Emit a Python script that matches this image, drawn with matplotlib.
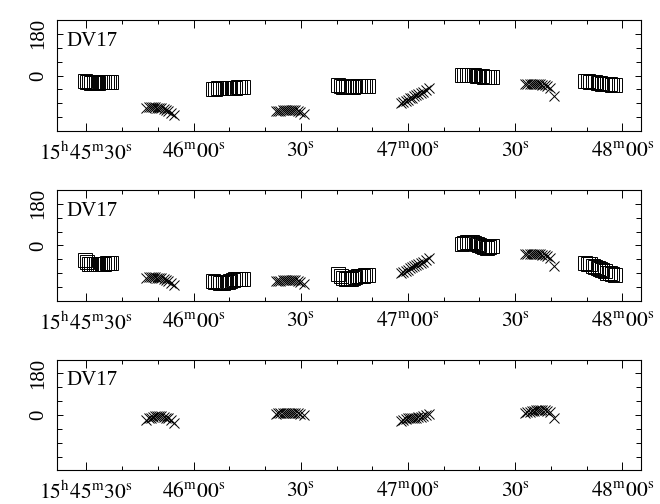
import matplotlib
matplotlib.use("Agg")
import matplotlib.pyplot as plt
from matplotlib.ticker import MultipleLocator, FixedLocator

plt.rcParams['font.family'] = ['Liberation Serif', 'DejaVu Serif']
plt.rcParams['mathtext.fontset'] = 'stix'

# Time in seconds after 15h45m00s
sq_time = [29.5, 30.2, 30.8, 31.4, 32.0, 32.6, 33.2, 33.8, 34.4, 35.0, 35.7, 36.3, 37.0,
           65.4, 66.1, 66.8, 67.5, 68.2, 68.9, 69.6, 70.3, 71.0, 71.7, 72.4, 73.1, 73.8,
           100.5, 101.2, 101.9, 102.6, 103.3, 104.0, 104.6, 105.3, 106.0, 106.7, 107.4, 108.0, 108.7,
           135.1, 135.8, 136.5, 137.2, 137.9, 138.6, 139.3, 140.0, 140.6, 141.3, 142.0, 142.7, 143.4,
           169.6, 170.3, 171.0, 171.7, 172.4, 173.1, 173.8, 174.4, 175.1, 175.8, 176.5, 177.2, 177.9]

sq_phase_top = [-22, -28, -30, -31, -31, -31, -31, -30, -30, -30, -30, -30, -30,
                -57, -57, -56, -55, -55, -54, -54, -53, -52, -52, -51, -51, -50,
                -42, -46, -50, -51, -50, -49, -48, -47, -46, -45, -45, -44, -44,
                2, 3, 3, 2, 2, 1, 0, -2, -4, -6, -7, -7, -7,
                -24, -25, -26, -28, -30, -32, -33, -35, -36, -37, -38, -39, -40]

sq_phase_mid = [-63, -72, -78, -80, -81, -80, -80, -79, -78, -78, -77, -77, -76,
                -155, -157, -160, -163, -163, -160, -156, -152, -149, -147, -146, -145, -145,
                -122, -130, -140, -145, -146, -144, -140, -137, -134, -132, -130, -129, -128,
                8, 12, 14, 14, 13, 11, 8, 3, -3, -8, -9, -6, -3,
                -75, -78, -82, -87, -92, -97, -102, -107, -112, -117, -121, -125, -128]

x_time = [46.8, 47.4, 48.0, 48.6, 49.2, 49.8, 50.4, 51.0, 51.6, 52.2, 52.8, 53.6, 54.5,
          83.1, 83.7, 84.3, 84.9, 85.5, 86.1, 86.7, 87.3, 87.9, 88.5, 89.1, 89.9, 90.8,
          118.1, 118.7, 119.3, 119.9, 120.5, 121.1, 121.7, 122.3, 122.9, 123.5, 124.2, 125.1, 126.0,
          152.8, 153.4, 154.0, 154.6, 155.2, 155.8, 156.4, 157.0, 157.6, 158.2, 158.8, 159.6, 160.8]

x_phase_top = [-140, -138, -137, -137, -138, -139, -140, -142, -145, -150, -155, -163, -172,
               -155, -153, -152, -151, -150, -149, -148, -148, -149, -150, -152, -156, -166,
               -120, -114, -109, -104, -99, -95, -90, -86, -81, -76, -70, -62, -52,
               -38, -36, -35, -35, -35, -35, -36, -37, -39, -42, -46, -55, -88]

x_phase_bot = [-20, -15, -11, -8, -6, -5, -5, -6, -8, -11, -15, -22, -35,
               5, 7, 8, 9, 9, 10, 10, 10, 9, 8, 7, 5, -2,
               -25, -20, -17, -15, -14, -13, -12, -12, -10, -8, -5, 0, 5,
               10, 13, 15, 17, 19, 20, 21, 22, 22, 21, 18, 12, -12]

xtick_pos = [30, 60, 90, 120, 150, 180]
xtick_lab = [r'$15^{\rm h}45^{\rm m}30^{\rm s}$', r'$46^{\rm m}00^{\rm s}$', r'$30^{\rm s}$',
             r'$47^{\rm m}00^{\rm s}$', r'$30^{\rm s}$', r'$48^{\rm m}00^{\rm s}$']
ytick_pos = [0, 180]
ytick_lab = ['0', '180']
panel_label = 'DV17'

fig = plt.figure(figsize=(6.6, 5.04), dpi=100)
bottoms = [0.740, 0.4028, 0.0665]
left, width, height = 0.0871, 0.8841, 0.2202

for i, b in enumerate(bottoms):
    ax = fig.add_axes([left, b, width, height])
    if i == 0:
        ax.plot(sq_time, sq_phase_top, ls='none', marker='s', ms=9.5, mfc='none',
                mec='black', mew=0.7)
        ax.plot(x_time, x_phase_top, ls='none', marker='x', ms=7.5, color='black', mew=0.7)
    elif i == 1:
        ax.plot(sq_time, sq_phase_mid, ls='none', marker='s', ms=9.5, mfc='none',
                mec='black', mew=0.7)
        ax.plot(x_time, x_phase_top, ls='none', marker='x', ms=7.5, color='black', mew=0.7)
    else:
        ax.plot(x_time, x_phase_bot, ls='none', marker='x', ms=7.5, color='black', mew=0.7)
    ax.set_xlim(21.9, 185.2)
    ax.set_ylim(-240, 240)
    ax.set_xticks(xtick_pos)
    ax.set_xticklabels(xtick_lab)
    ax.xaxis.set_minor_locator(MultipleLocator(10))
    ax.set_yticks(ytick_pos)
    ax.set_yticklabels(ytick_lab)
    ax.yaxis.set_minor_locator(MultipleLocator(60))
    ax.tick_params(axis='both', which='both', direction='in', top=True, right=True,
                   width=0.7, colors='black')
    ax.tick_params(axis='x', which='major', length=6, labelsize=15.5, pad=8)
    ax.tick_params(axis='x', which='minor', length=3)
    ax.tick_params(axis='y', which='major', length=4, labelsize=15, pad=7)
    ax.tick_params(axis='y', which='minor', length=3.5)
    for lab in ax.get_yticklabels():
        lab.set_rotation(90)
        lab.set_va('center')
    for s in ax.spines.values():
        s.set_linewidth(0.8)
    ax.text(0.0145, 0.895, panel_label, transform=ax.transAxes, fontsize=15,
            ha='left', va='top')

fig.savefig('out.png', dpi=100)
